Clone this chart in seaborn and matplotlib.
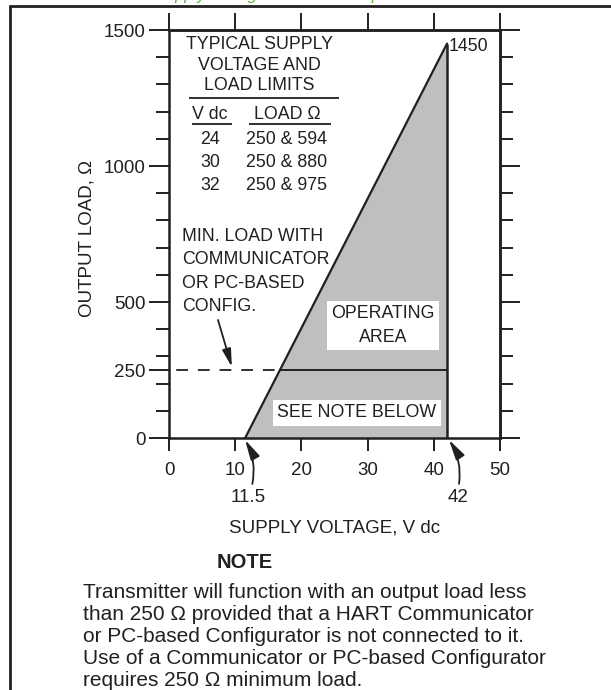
"""
Supply voltage / load limit chart for a 4-20 mA HART transmitter.
"""

import matplotlib

matplotlib.use("Agg")
import matplotlib.pyplot as plt
from matplotlib.lines import Line2D
from matplotlib.ticker import FixedLocator, MultipleLocator
import numpy as np
import pandas as pd
import seaborn as sns

# Operating boundary: max loop load vs supply voltage
supply_v = [11.5, 42]
max_load = [0, 1450]
min_load = 250

# Typical supply voltage and load limits table
table_volts = [24, 30, 32]
table_loads = [594, 880, 975]

x_ticks = [0, 10, 20, 30, 40, 50]
y_ticks = [0, 250, 500, 1000, 1500]
right_ticks = [0, 500, 1000, 1500]

note_lines = [
    "Transmitter will function with an output load less",
    f"than {min_load} \u03a9 provided that a HART Communicator",
    "or PC-based Configurator is not connected to it.",
    "Use of a Communicator or PC-based Configurator",
    f"requires {min_load} \u03a9 minimum load.",
]

INK = "#231f20"
GRAY = "#bdbfc1"
GREEN = "#5bb531"
FS = 12.8
TFS = 13.5

sns.set_theme(style="ticks")
plt.rcParams["font.family"] = ["Liberation Sans", "DejaVu Sans"]
plt.rcParams["text.color"] = INK
plt.rcParams["axes.labelcolor"] = INK

fig = plt.figure(figsize=(6.11, 6.90), dpi=100)
ax = fig.add_axes([0.2766, 0.3652, 0.5417, 0.5913])

# Operating area
boundary = pd.DataFrame({"volts": supply_v, "load": max_load})
ax.fill_between(boundary["volts"], 0, boundary["load"], color=GRAY, lw=0, zorder=1)
sns.lineplot(data=boundary, x="volts", y="load", color=INK, lw=1.6, ax=ax, zorder=3)
ax.vlines(supply_v[1], 0, max_load[1], color=INK, lw=1.8, zorder=3)

# Minimum load with communicator
v_comm = np.interp(min_load, max_load, supply_v)
ax.hlines(min_load, v_comm, supply_v[1], color=INK, lw=1.4, zorder=3)
ax.hlines(min_load, 0, v_comm, color=INK, lw=1.3,
          linestyles=[(8.0, (6.5, 5.5))], zorder=3)

ax.set_xlim(x_ticks[0], x_ticks[-1])
ax.set_ylim(y_ticks[0], y_ticks[-1])

# Axes / ticks (technical drawing style)
ax.xaxis.set_major_locator(FixedLocator(x_ticks))
ax.yaxis.set_major_locator(FixedLocator(y_ticks))
ax.yaxis.set_minor_locator(MultipleLocator(100))
ax.tick_params(axis="x", which="major", direction="out", length=9.4, width=1.4,
               pad=8, labelsize=TFS, color=INK, labelcolor=INK,
               top=False, bottom=True)
ax.tick_params(axis="y", which="major", direction="out", length=14.4, width=1.4,
               pad=2.5, labelsize=TFS, color=INK, labelcolor=INK,
               left=True, right=False)
ax.tick_params(axis="y", which="minor", direction="out", length=9.4, width=1.4,
               color=INK, left=True, right=False)
for s in ax.spines.values():
    s.set_visible(True)
    s.set_linewidth(1.8)
    s.set_color(INK)

top = ax.secondary_xaxis("top")
top.xaxis.set_major_locator(FixedLocator(x_ticks))
top.tick_params(axis="x", direction="out", length=12.2, width=1.4, color=INK,
                labeltop=False, labelbottom=False)
top.spines["top"].set_linewidth(1.8)
top.spines["top"].set_color(INK)

right = ax.secondary_yaxis("right")
right.yaxis.set_major_locator(FixedLocator(right_ticks))
right.yaxis.set_minor_locator(MultipleLocator(100))
right.tick_params(axis="y", which="major", direction="out", length=14.4,
                  width=1.4, color=INK, labelright=False, labelleft=False)
right.tick_params(axis="y", which="minor", direction="out", length=9.4,
                  width=1.4, color=INK)
right.spines["right"].set_linewidth(1.8)
right.spines["right"].set_color(INK)

ax.set_xlabel("SUPPLY VOLTAGE, V dc", fontsize=TFS, va="center")
ax.xaxis.set_label_coords(0.5, -0.2206)
ax.set_ylabel("OUTPUT LOAD, \u03a9", fontsize=TFS, va="center")
ax.yaxis.set_label_coords(-0.248, 0.49)

# Typical limits table
ax.text(13.7, 1371, "TYPICAL SUPPLY\nVOLTAGE AND\nLOAD LIMITS", ha="center",
        va="center", multialignment="center", fontsize=FS, linespacing=1.28)
ax.hlines(1250, 3.0, 25.7, color=INK, lw=1.3)
ax.text(6.2, 1191, "V dc", ha="center", va="center", fontsize=FS)
ax.text(17.8, 1191, "LOAD \u03a9", ha="center", va="center", fontsize=FS)
ax.hlines([1154, 1154], [3.5, 12.1], [9.5, 24.4], color=INK, lw=1.3)
for i, (v, r) in enumerate(zip(table_volts, table_loads)):
    row_y = 1097 - i * 85
    ax.text(6.2, row_y, f"{v}", ha="center", va="center", fontsize=FS)
    ax.text(17.8, row_y, f"{min_load} & {r}", ha="center", va="center",
            fontsize=FS)

ax.text(supply_v[1] + 0.2, max_load[1] - 12, f"{max_load[1]}", ha="left",
        va="center", fontsize=FS)

ax.text(2.0, 612, "MIN. LOAD WITH\nCOMMUNICATOR\nOR PC-BASED\nCONFIG.",
        ha="left", va="center", fontsize=FS, linespacing=1.5)

box = dict(facecolor="white", edgecolor="none", pad=3)
ax.text(32.3, 414, "OPERATING\nAREA", ha="center", va="center",
        multialignment="center", fontsize=FS, linespacing=1.5, bbox=box,
        zorder=4)
ax.text(28.4, 92, "SEE NOTE BELOW", ha="center", va="center", fontsize=FS,
        bbox=box, zorder=4)

arrow = "-|>,head_length=0.9,head_width=0.22"
ax.annotate("", xy=(9.5, 261), xytext=(7.4, 434),
            arrowprops=dict(arrowstyle=arrow, color=INK, lw=1.3,
                            shrinkA=0, shrinkB=0))
ax.annotate(f"{supply_v[0]}", xy=(supply_v[0], -7), xytext=(11.9, -217),
            ha="center", va="center", fontsize=TFS, annotation_clip=False,
            arrowprops=dict(arrowstyle=arrow, color=INK, lw=1.3,
                            connectionstyle="arc3,rad=0.2", relpos=(0.6, 1.0),
                            shrinkA=1, shrinkB=0))
ax.annotate(f"{supply_v[1]}", xy=(supply_v[1] + 0.3, -7), xytext=(43.7, -217),
            ha="center", va="center", fontsize=TFS, annotation_clip=False,
            arrowprops=dict(arrowstyle=arrow, color=INK, lw=1.3,
                            connectionstyle="arc3,rad=0.2", relpos=(0.5, 1.0),
                            shrinkA=1, shrinkB=0))

# Note below the chart
fig.text(0.401, 1 - 563 / 690, "NOTE", ha="center", va="center",
         fontsize=14.5, fontweight="bold")
fig.text(83 / 611, 1 - 636 / 690, "\n".join(note_lines), ha="left",
         va="center", fontsize=15, linespacing=1.2)

# Clipped figure caption and page frame
fig.text(103 / 611, 1.0, "Power Supply Voltage and Load Requirements",
         ha="left", va="baseline", fontsize=12, style="italic", color=GREEN)
fig.add_artist(Line2D([10 / 611, 10 / 611], [0, 1 - 6 / 690],
                      transform=fig.transFigure, color=INK, lw=2))
fig.add_artist(Line2D([10 / 611, 1], [1 - 6 / 690, 1 - 6 / 690],
                      transform=fig.transFigure, color=INK, lw=2))

fig.savefig("out.png", dpi=100)
